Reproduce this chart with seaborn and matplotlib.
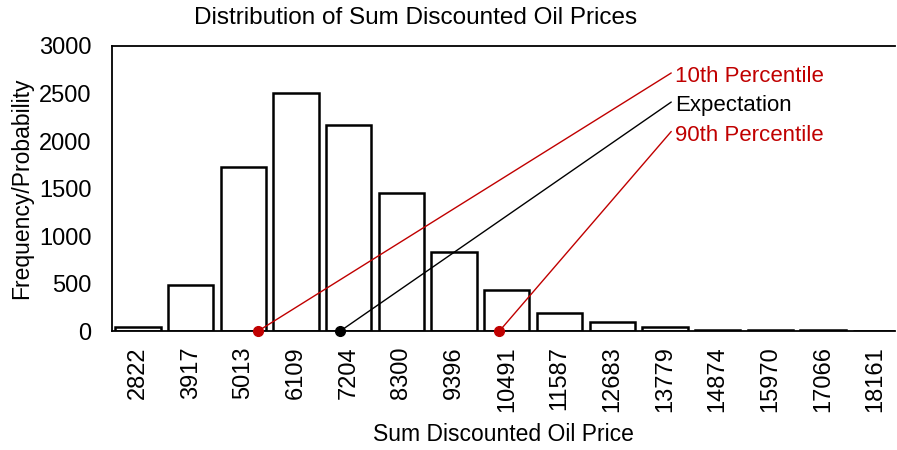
import matplotlib
matplotlib.use('Agg')
import matplotlib.pyplot as plt
import seaborn as sns
import numpy as np

# histogram bins (left edges of sum discounted oil price) and counts
bins = ['2822', '3917', '5013', '6109', '7204', '8300', '9396', '10491',
        '11587', '12683', '13779', '14874', '15970', '17066', '18161']
counts = [40, 484, 1726, 2505, 2168, 1452, 831, 431, 193, 98, 42, 10, 8, 8, 0]

# summary statistics
stat_names = ['10th Percentile', 'Expectation', '90th Percentile']
stat_values = [5320, 7029, 10338]
stat_colors = ['#c00000', 'black', '#c00000']
label_heights = [2716, 2410, 2100]

sns.set_theme(style='white')
plt.rcParams['font.family'] = ['Liberation Sans', 'DejaVu Sans']
plt.rcParams['text.color'] = 'black'
plt.rcParams['axes.labelcolor'] = 'black'
plt.rcParams['xtick.color'] = 'black'
plt.rcParams['ytick.color'] = 'black'

fig = plt.figure(figsize=(8.97, 4.5), dpi=100)
ax = fig.add_axes([0.125, 0.2644, 0.873, 0.6334])

sns.barplot(x=bins, y=counts, color='white', edgecolor='black',
            linewidth=1.8, width=0.86, saturation=1, ax=ax)

# convert stat values to positions on the categorical axis
first = float(bins[0])
step = (float(bins[-1]) - first) / (len(bins) - 1)
label_x = 10.12
for name, val, col, hy in zip(stat_names, stat_values, stat_colors, label_heights):
    px = (val - first) / step
    ax.plot([px, label_x], [0, hy], color=col, lw=1.0, clip_on=False, zorder=5)
    ax.plot(px, 0, 'o', color=col, ms=7, clip_on=False, zorder=6)
    ax.text(label_x + 0.08, hy - 40, name, color=col, fontsize=16,
            va='center', ha='left')

ax.set_xlim(-0.49, 14.37)
ax.set_ylim(0, 3000)
ax.set_yticks(range(0, 3001, 500))
ax.tick_params(axis='both', length=0, labelsize=17)
ax.tick_params(axis='y', pad=15)
ax.tick_params(axis='x', rotation=90, pad=11)
ax.set_xlabel('Sum Discounted Oil Price', fontsize=16.5, labelpad=8)
ax.set_ylabel('Frequency/Probability', fontsize=16.5, labelpad=4)
ax.set_title('Distribution of Sum Discounted Oil Prices', fontsize=17.5,
             x=0.387, pad=16)

for s in ['left', 'bottom', 'top']:
    ax.spines[s].set_color('black')
    ax.spines[s].set_linewidth(1.3)
ax.spines['right'].set_visible(False)

fig.savefig('out.png', dpi=100)
